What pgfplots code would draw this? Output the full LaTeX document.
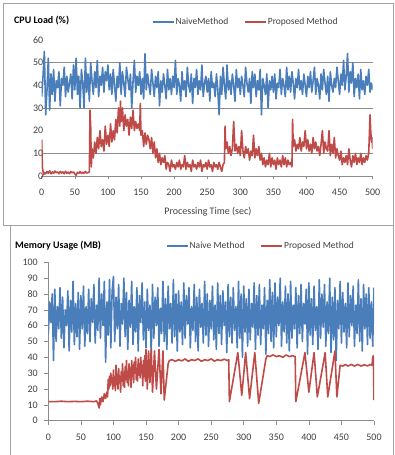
\documentclass[border=0pt]{standalone}
\usepackage{fontspec}
\setmainfont{Carlito}
\usepackage{pgfplots}
\usepackage{pgfplotstable}
\pgfplotsset{compat=1.18}
\definecolor{nblue}{HTML}{4A7EBB}
\definecolor{pred}{HTML}{BE4B48}
\definecolor{axgray}{HTML}{8C8C8C}
\definecolor{txt}{HTML}{404040}

% CPU load, naive method (one value every 2 s, t = 0..500)
\pgfplotstableread[row sep=\\]{y\\
35\\44\\55\\27\\38\\52\\29\\45\\36\\47\\33\\42\\39\\46\\31\\43\\40\\48\\35\\44\\37\\41\\45\\34\\49\\
38\\52\\36\\44\\30\\47\\41\\30\\52\\37\\45\\33\\50\\42\\36\\46\\39\\51\\35\\44\\40\\48\\37\\46\\42\\
49\\38\\45\\36\\47\\40\\33\\44\\39\\50\\36\\46\\41\\35\\48\\43\\38\\45\\30\\42\\51\\37\\44\\40\\46\\
36\\43\\34\\54\\38\\45\\40\\36\\47\\41\\35\\44\\39\\46\\31\\42\\37\\45\\40\\34\\47\\38\\43\\36\\44\\
39\\51\\36\\43\\40\\33\\46\\38\\42\\35\\48\\40\\37\\45\\32\\43\\39\\47\\36\\42\\38\\49\\35\\41\\44\\
37\\43\\33\\46\\39\\41\\35\\45\\38\\27\\44\\36\\48\\40\\34\\49\\38\\42\\36\\45\\40\\33\\47\\39\\43\\
36\\44\\40\\35\\48\\41\\37\\43\\32\\46\\39\\45\\35\\42\\38\\47\\27\\43\\40\\36\\45\\30\\42\\38\\44\\
37\\45\\34\\41\\39\\47\\36\\43\\40\\35\\48\\38\\44\\37\\46\\41\\34\\43\\39\\47\\38\\42\\36\\45\\40\\
35\\44\\39\\46\\37\\42\\48\\36\\43\\40\\34\\45\\38\\47\\41\\36\\44\\33\\46\\40\\37\\43\\39\\48\\42\\
36\\45\\40\\51\\38\\44\\54\\37\\46\\41\\50\\35\\43\\39\\45\\34\\47\\38\\42\\36\\44\\40\\47\\37\\41\\
38\\}\cpunaive

% Memory usage, naive method (one value every 2 s, t = 0..500)
\pgfplotstableread[row sep=\\]{y\\
55\\75\\62\\80\\38\\83\\50\\72\\58\\84\\52\\78\\46\\70\\60\\82\\44\\76\\56\\88\\48\\74\\53\\81\\45\\
79\\58\\85\\47\\72\\55\\83\\50\\77\\62\\86\\49\\73\\57\\90\\52\\80\\60\\88\\37\\75\\54\\89\\46\\82\\
91\\50\\78\\58\\86\\47\\74\\61\\90\\53\\81\\45\\76\\59\\88\\48\\72\\56\\84\\44\\79\\62\\87\\51\\75\\
46\\83\\57\\73\\42\\86\\52\\78\\60\\84\\47\\71\\55\\88\\50\\77\\45\\85\\58\\74\\49\\89\\53\\80\\44\\
82\\56\\75\\48\\87\\52\\79\\61\\84\\46\\72\\57\\86\\50\\78\\44\\83\\59\\74\\49\\88\\54\\80\\47\\76\\
58\\85\\51\\73\\45\\87\\55\\79\\48\\82\\60\\75\\43\\86\\53\\78\\49\\84\\57\\72\\46\\88\\52\\80\\40\\
85\\56\\77\\47\\83\\51\\74\\59\\87\\45\\79\\54\\86\\48\\73\\58\\84\\42\\76\\55\\89\\50\\81\\46\\87\\
53\\78\\60\\90\\47\\75\\56\\85\\49\\80\\44\\88\\52\\73\\58\\84\\46\\79\\55\\86\\50\\74\\61\\83\\42\\
87\\54\\77\\48\\85\\57\\72\\45\\89\\52\\80\\59\\86\\47\\75\\55\\90\\43\\78\\51\\84\\38\\76\\58\\88\\
49\\81\\56\\74\\46\\87\\53\\79\\60\\85\\47\\73\\55\\89\\50\\77\\44\\86\\58\\80\\48\\84\\52\\75\\47\\
84\\}\memnaive

\pgfplotsset{
  panel/.style={
    scale only axis,
    xmin=0, xmax=500,
    xtick={0,50,...,500},
    axis lines*=left,
    axis line style={axgray, line width=0.6pt},
    tick style={axgray, line width=0.6pt},
    tick align=outside,
    ticklabel style={font=\fontsize{10}{12}\selectfont, text=txt, inner sep=0pt},
    /pgf/number format/assume math mode=true,
    xticklabel style={anchor=north},
    yticklabel style={anchor=east},
    legend style={draw=none, fill=none, inner sep=0pt, outer sep=0pt,
      legend columns=2, font=\fontsize{9.5}{11}\selectfont, text=txt,
      nodes={inner sep=1pt},
      /tikz/column 2/.style={column sep=15pt}},
    legend cell align=left,
    legend image code/.code={\draw[##1, line width=1.6pt] (0pt,0pt) -- (21pt,0pt);},
    every axis plot/.append style={line width=1.6pt, line join=round, mark=none},
  }
}

\begin{document}
\begin{tikzpicture}
\path[use as bounding box] (0pt,0pt) rectangle (395pt,455pt);
% panel frames
\draw[axgray!80, line width=0.7pt] (3pt,230pt) rectangle (393pt,452pt);
\draw[axgray!80, line width=0.7pt] (10pt,0pt) -- (10pt,230pt);
\draw[axgray!80, line width=0.7pt] (393pt,0pt) -- (393pt,230pt);

% ---------------- CPU load ----------------
\begin{axis}[panel,
  at={(41.7pt,279pt)}, anchor=south west,
  width=331pt, height=136pt,
  ymin=0, ymax=60, ytick={0,10,...,60},
  y axis line style={draw=none},
  ytick style={draw=none},
  major tick length=3pt,
  xticklabel shift=10.3pt,
  yticklabel shift=-4.8pt,
  extra y ticks={10,30,50}, extra y tick labels={},
  extra y tick style={grid=major, major grid style={axgray, line width=0.6pt}},
  xlabel={Processing Time (sec)},
  xlabel style={at={(axis description cs:0.502,-0.265)}, anchor=center,
    font=\fontsize{10}{12}\selectfont, text=txt},
  legend style={at={(axis description cs:0.333,1.132)}, anchor=west},
]
\addplot[nblue] table[x expr=\coordindex*2, y=y] {\cpunaive};
\addlegendentry{NaiveMethod}
\addplot[pred] coordinates {
(0,16) (1,4) (2,2) (3,0.5) (4,1.5) (6,1) (8,2) (10,1.2) (12,2.3) (14,1) (16,1.8) (18,1.2) (20,2.2) (22,1.4) (24,1.8) (26,1) (28,2) (30,1.3) (32,1.8) (34,1) (36,2.1) (38,1.2) (40,1.7) (42,1) (44,2) (46,1.4) (48,1.8) (50,1) (52,0.3) (54,1.6) (56,1.2) (58,2) (60,1.1) (62,1.7) (64,1.2) (66,2) (68,1.3) (70,1.5) (72,1.8)
(73,29) (74,22) (75,4) (76,12) (78,8) (80,15) (82,10) (84,17) (86,12) (88,20) (90,13) (92,16) (94,11) (96,22) (98,14) (100,18) (102,13) (104,23) (106,15) (108,20) (110,16) (112,25) (114,19) (116,30) (118,22) (119,33) (120,24) (122,30) (124,20) (126,27) (128,22) (130,25) (132,18) (134,26) (136,21) (138,29) (140,20) (142,24) (144,21) (146,23) (148,20) (149,32) (150,18)
(152,20) (154,13) (156,19) (158,14) (160,18) (162,16) (164,12) (166,17) (168,10) (170,15) (172,8) (174,12) (176,6) (178,10) (180,5) (182,8) (184,6) (186,9) (188,3) (190,6) (192,5) (194,2) (196,7) (198,4) (200,5) (202,3) (204,6) (206,4) (208,7) (210,3) (212,5) (214,4) (216,9) (218,3) (220,6) (222,4) (224,5) (226,2) (228,7) (230,4) (232,5) (234,3) (236,6) (238,4) (240,7) (242,2) (244,5) (246,4) (248,6) (250,3) (252,7) (254,4) (256,5) (258,2) (260,6) (262,4) (264,5) (266,3) (268,6) (270,4) (272,2) (274,5) (276,6)
(277,22) (278,12) (280,15) (282,10) (284,13) (286,9) (288,12) (290,24) (292,11) (294,14) (296,10) (298,13) (300,9) (302,20) (304,11) (306,8) (308,13) (310,10) (312,12) (314,7) (316,11) (318,9) (320,18) (322,8) (324,12) (326,9) (328,13) (330,7) (332,10) (334,5) (336,8) (338,4) (340,7) (342,5) (344,10) (346,4) (348,8) (350,5) (352,7) (354,3) (356,8) (358,5) (360,7) (362,4) (364,9) (366,5) (368,8) (370,4) (372,7) (374,5) (376,6) (378,4)
(379,25) (380,13) (382,16) (384,11) (386,14) (388,12) (390,17) (392,11) (394,15) (396,13) (398,20) (400,12) (402,16) (404,11) (406,14) (408,10) (410,17) (412,12) (414,15) (416,11) (418,13) (420,9) (422,14) (424,20) (426,10) (428,15) (430,12) (432,11) (434,20) (436,9) (438,14) (440,10) (442,17) (444,8) (446,12) (448,9) (450,7) (452,11) (454,5) (456,8) (458,6) (460,9) (462,5) (464,12) (466,7) (468,4) (470,9) (472,6) (474,10) (476,5) (478,8) (480,6) (482,10) (484,5) (486,8) (488,6) (490,9) (492,7) (494,10) (496,27) (497,20) (498,15) (499,17) (500,12)
};
\addlegendentry{Proposed Method}
\end{axis}
\node[anchor=west, font=\bfseries\fontsize{10}{12}\selectfont, inner sep=0pt] at (14pt,434pt) {CPU Load (\%)};

% ---------------- Memory usage ----------------
\begin{axis}[panel,
  at={(48.3pt,34.3pt)}, anchor=south west,
  width=325.7pt, height=158.4pt,
  ymin=0, ymax=100, ytick={0,10,...,100},
  major tick length=4pt,
  xticklabel shift=9.1pt,
  yticklabel shift=6.3pt,
  legend style={at={(axis description cs:0.3614,1.103)}, anchor=west},
]
\addplot[nblue] table[x expr=\coordindex*2, y=y] {\memnaive};
\addlegendentry{Naive Method}
\addplot[pred] coordinates {
(0,12) (10,12) (20,12.3) (30,12) (40,12.2) (50,12) (60,12.3) (70,12) (74,12.5) (76,11) (78,8) (79,14) (80,10) (82,15) (84,12) (86,17) (88,14) (90,18) (91,15)
(92,26) (93,20) (94,28) (95,22) (96,30) (97,24) (98,27) (99,20) (100,32) (101,22) (102,27) (103,19) (104,35) (105,23) (106,29) (107,20) (108,33) (109,24) (110,28) (111,18) (112,31) (113,25) (114,36) (115,22) (116,30) (117,21) (118,34) (119,26) (120,38) (121,24) (122,31) (123,22) (124,36) (125,27) (126,33) (127,21) (128,38) (129,28) (130,35) (131,24) (132,37) (133,30) (134,40) (135,26) (136,33) (137,25) (138,39) (139,29) (140,36) (141,27) (142,40) (143,30) (144,35) (145,22) (146,38) (147,28) (148,41) (149,25)
(150,45) (152,20) (154,44) (156,24) (158,45) (160,18) (163,44) (166,20) (170,45) (173,17) (176,44) (178,13) (184,36)
(186,38) (190,38.5) (195,37.5) (200,38.5) (205,37.8) (210,39) (215,37.5) (220,38.5) (225,38) (230,39) (235,37.5) (240,38.5) (245,38) (250,39) (255,37.6) (260,38.5) (265,38) (270,38.8) (275,38) (277,38.5)
(278,12) (291,43) (297,16) (303,43) (309,14) (317,43) (323,11) (334,39)
(336,41) (340,40.5) (345,41.5) (350,40.5) (355,41) (360,40) (365,41.5) (370,40.5) (375,41) (379,40.5)
(380,12) (394,43) (400,18) (408,43) (413,15) (425,43) (429,15) (440,44) (443,15) (448,35)
(452,34.5) (456,35.5) (460,34.5) (465,35.5) (470,34.5) (475,35.5) (480,34.5) (485,35.3) (490,34.6) (495,35.5) (497,35) (498,40) (499,41) (500,13)
};
\addlegendentry{Proposed Method}
\end{axis}
\node[anchor=west, font=\bfseries\fontsize{10}{12}\selectfont, inner sep=0pt] at (15pt,209pt) {Memory Usage (MB)};
\end{tikzpicture}
\end{document}
